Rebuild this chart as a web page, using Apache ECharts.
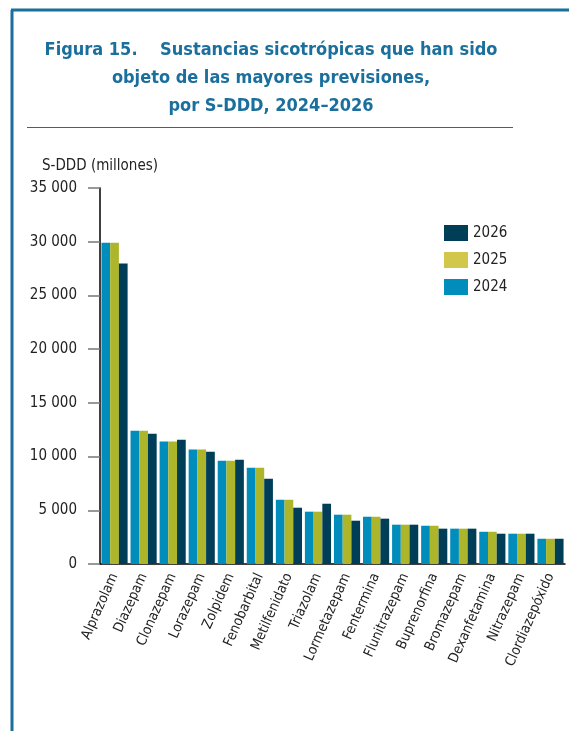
<!DOCTYPE html>
<html>
<head>
<meta charset="utf-8">
<script src="https://cdn.jsdelivr.net/npm/echarts@6/dist/echarts.min.js"></script>
<style>
  html, body { margin: 0; padding: 0; background: #fff; }
  #chart { width: 569px; height: 731px; }
</style>
</head>
<body>
<div id="chart"></div>
<script>
// sustancias (eje x)
const categories = ['Alprazolam', 'Diazepam', 'Clonazepam', 'Lorazepam', 'Zolpidem', 'Fenobarbital',
  'Metilfenidato', 'Triazolam', 'Lormetazepam', 'Fentermina', 'Flunitrazepam', 'Buprenorfina',
  'Bromazepam', 'Dexanfetamina', 'Nitrazepam', 'Clordiazepóxido']
// S-DDD (millones)
const values2024 = [29900, 12400, 11400, 10650, 9620, 8960, 5980, 4870, 4590, 4400, 3660, 3560, 3290, 3000, 2820, 2350]
const values2025 = [29900, 12400, 11400, 10650, 9620, 8960, 5980, 4870, 4590, 4400, 3660, 3560, 3290, 3000, 2820, 2350]
const values2026 = [27980, 12130, 11570, 10450, 9710, 7940, 5240, 5610, 4030, 4220, 3660, 3290, 3290, 2820, 2820, 2350]
const yTicks = [0, 5000, 10000, 15000, 20000, 25000, 30000, 35000]

const blue = '#1a6f9c'
const font = "'DejaVu Sans Condensed', sans-serif"

let myChart = echarts.init(document.getElementById('chart'))
myChart.setOption({
  animation: false,
  textStyle: { fontFamily: font },
  title: {
    text: 'Figura 15.    Sustancias sicotrópicas que han sido\nobjeto de las mayores previsiones,\npor S-DDD, 2024–2026',
    left: 266,
    top: 31,
    textAlign: 'center',
    textStyle: {
      fontFamily: font,
      fontSize: 18,
      fontWeight: 'bold',
      color: blue,
      lineHeight: 28,
      align: 'center'
    }
  },
  graphic: [
    // marco
    { type: 'line', shape: { x1: 12, y1: 10, x2: 12, y2: 740 }, style: { stroke: blue, lineWidth: 3 } },
    { type: 'line', shape: { x1: 11, y1: 10, x2: 580, y2: 10 }, style: { stroke: blue, lineWidth: 3 } },
    // separador bajo el título
    { type: 'line', shape: { x1: 27, y1: 127.5, x2: 513, y2: 127.5 }, style: { stroke: blue, lineWidth: 1 } }
  ],
  legend: {
    data: [
      { name: '2026' },
      { name: '2025', itemStyle: { color: '#d2c74b' } },
      { name: '2024' }
    ],
    orient: 'vertical',
    icon: 'rect',
    left: 439,
    top: 220,
    itemWidth: 24,
    itemHeight: 16,
    itemGap: 11,
    textStyle: { fontFamily: font, fontSize: 15, color: '#222' }
  },
  grid: {
    left: 100,
    right: 4,
    top: 188,
    bottom: 167
  },
  xAxis: {
    type: 'category',
    data: categories,
    axisLine: { lineStyle: { color: '#000', width: 1.5 } },
    axisTick: { length: 8, lineStyle: { color: '#000', width: 1.5 } },
    axisLabel: {
      rotate: 66,
      interval: 0,
      margin: 10,
      fontSize: 14,
      color: '#222',
      fontFamily: font
    }
  },
  yAxis: {
    type: 'value',
    min: 0,
    max: 35000,
    interval: 5000,
    name: 'S-DDD (millones)',
    nameLocation: 'end',
    nameGap: 14,
    nameTextStyle: { fontFamily: font, fontSize: 15, color: '#222', align: 'center' },
    splitLine: { show: false },
    axisLine: { show: true, lineStyle: { color: '#000', width: 1.5 } },
    axisTick: { show: true, length: 12, lineStyle: { color: '#777', width: 1.5 } },
    axisLabel: {
      margin: 23,
      fontSize: 15,
      color: '#222',
      fontFamily: font,
      customValues: yTicks,
      formatter: v => v === 0 ? '0' : String(v).replace(/\B(?=(\d{3})+(?!\d))/g, ' ')
    }
  },
  series: [
    { name: '2024', type: 'bar', data: values2024, barGap: 0, barCategoryGap: '10%', itemStyle: { color: '#008dbc' } },
    { name: '2025', type: 'bar', data: values2025, barGap: 0, barCategoryGap: '10%', itemStyle: { color: '#adb62b' } },
    { name: '2026', type: 'bar', data: values2026, barGap: 0, barCategoryGap: '10%', itemStyle: { color: '#003e58' } }
  ]
})
</script>
</body>
</html>
